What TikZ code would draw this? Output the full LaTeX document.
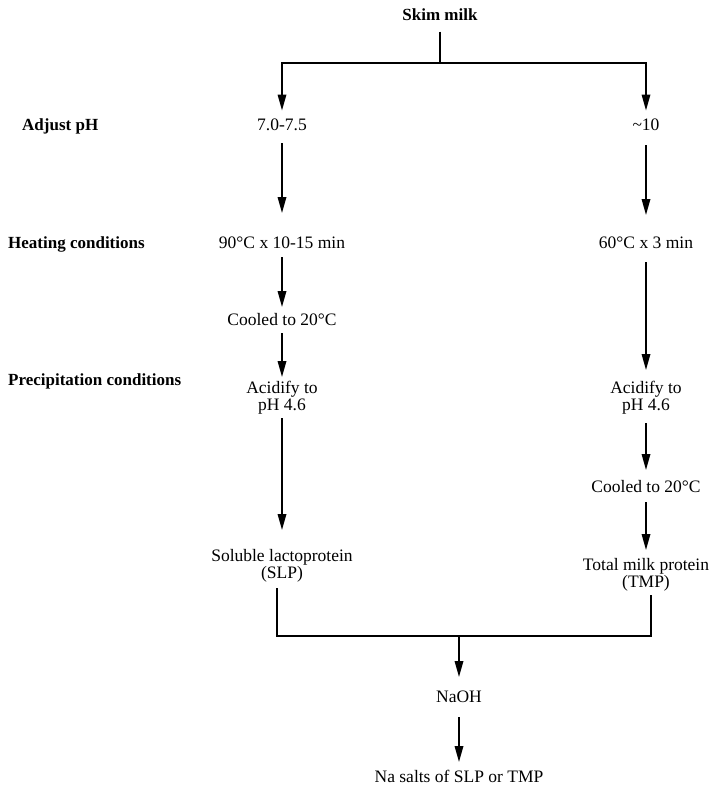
\documentclass[tikz,border=0pt]{standalone}
\usepackage{fontspec}
\setmainfont{Liberation Serif}
\usetikzlibrary{arrows.meta}
\begin{document}
\begin{tikzpicture}[
	x=1pt,
	y=-1pt,
	every node/.style={font=\fontsize{17.5}{17}\selectfont, inner sep=0pt, anchor=base},
	stage/.style={align=center},
	head/.style={font=\fontsize{17}{17}\selectfont\bfseries, anchor=base west},
	flow/.style={line width=1.7pt, -{Triangle[length=16pt,width=8.5pt]}},
	link/.style={line width=1.7pt}
	]
	\useasboundingbox (0,0) rectangle (723,788);

	% row headings
	\node[head, anchor=base] (milk) at (440,20.5) {Skim milk};
	\node[head] (hph) at (22,130) {Adjust pH};
	\node[head] (hheat) at (8,248) {Heating conditions};
	\node[head] (hprec) at (8,385) {Precipitation conditions};

	% left branch
	\node (ph1) at (282,130.5) {7.0-7.5};
	\node (heat1) at (282,248) {90\textdegree C x 10-15 min};
	\node (cool1) at (282,325) {Cooled to 20\textdegree C};
	\node[stage] (acid1) at (282,410) {Acidify to\\pH 4.6};
	\node[stage] (slp) at (282,578) {Soluble lactoprotein\\(SLP)};

	% right branch
	\node (ph2) at (646,130.5) {\textasciitilde10};
	\node (heat2) at (646,248) {60\textdegree C x 3 min};
	\node[stage] (acid2) at (646,410) {Acidify to\\pH 4.6};
	\node (cool2) at (646,492) {Cooled to 20\textdegree C};
	\node[stage] (tmp) at (646,587) {Total milk protein\\(TMP)};

	% common end
	\node (naoh) at (459,702) {NaOH};
	\node (salts) at (459,782) {Na salts of SLP or TMP};

	\coordinate (top) at (440,63);
	\coordinate (bot) at (459,636);

	\draw[link] ([yshift=-11pt]milk.base) -- (top);
	\draw[flow] (top) -| ([yshift=20pt]ph1.base);
	\draw[flow] (top) -| ([yshift=20pt]ph2.base);

	\draw[flow] ([yshift=-12.5pt]ph1.base) -- ([yshift=35pt]heat1.base);
	\draw[flow] ([yshift=-9pt]heat1.base) -- ([yshift=18pt]cool1.base);
	\draw[flow] ([yshift=-8pt]cool1.base) -- ([yshift=33pt]acid1.base);
	\draw[flow] ([yshift=-8pt]acid1.base) -- ([yshift=48pt]slp.base);

	\draw[flow] ([yshift=-14.5pt]ph2.base) -- ([yshift=33pt]heat2.base);
	\draw[flow] ([yshift=-14pt]heat2.base) -- ([yshift=40pt]acid2.base);
	\draw[flow] ([yshift=-13pt]acid2.base) -- ([yshift=22pt]cool2.base);
	\draw[flow] ([yshift=-10pt]cool2.base) -- ([yshift=37pt]tmp.base);

	\draw[link] ([xshift=-5pt,yshift=-10pt]slp.base) |- (bot);
	\draw[link] ([xshift=5pt,yshift=-8pt]tmp.base) |- (bot);
	\draw[flow] (bot) -- ([yshift=25pt]naoh.base);
	\draw[flow] ([yshift=-15pt]naoh.base) -- ([yshift=20pt]salts.base);
\end{tikzpicture}
\end{document}
